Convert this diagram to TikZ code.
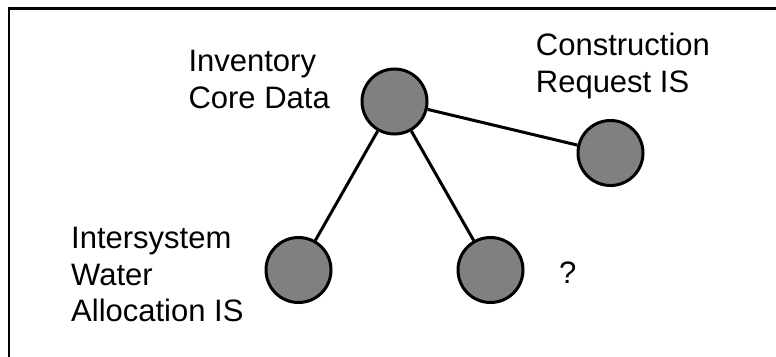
\documentclass[tikz,border=0pt]{standalone}
\usepackage{fontspec}
\setmainfont{Liberation Sans}
\begin{document}
\begin{tikzpicture}[x=1pt,y=-1pt,
  sys/.style={circle,draw=black,line width=3pt,fill=gray50,minimum size=65pt,inner sep=0pt},
  lbl/.style={anchor=base west,align=left,inner sep=0pt,font=\fontsize{31}{36.6}\selectfont},
  link/.style={line width=3pt,black}]
\definecolor{gray50}{HTML}{808080}
\useasboundingbox (0,0) rectangle (776,356);
\begin{scope}
\clip (0,0) rectangle (776,356);
\draw[line width=2.5pt] (9.2,8.3) rectangle (800,380);
\end{scope}
\node[sys] (core) at (394.5,101.5) {};
\node[sys] (constr) at (610.5,153) {};
\node[sys] (water) at (298.5,270) {};
\node[sys] (unk) at (490.5,270) {};
\draw[link] (core) -- (constr);
\draw[link] (core) -- (water);
\draw[link] (core) -- (unk);
\node[lbl] (tcore) at (188.3,108.3) {Inventory\\Core Data};
\node[lbl] (tconstr) at (535.7,92) {Construction\\Request IS};
\node[lbl] (twater) at (71,321.7) {Intersystem\\Water\\Allocation IS};
\node[lbl] (tunk) at (559,283.3) {?};
\end{tikzpicture}
\end{document}
